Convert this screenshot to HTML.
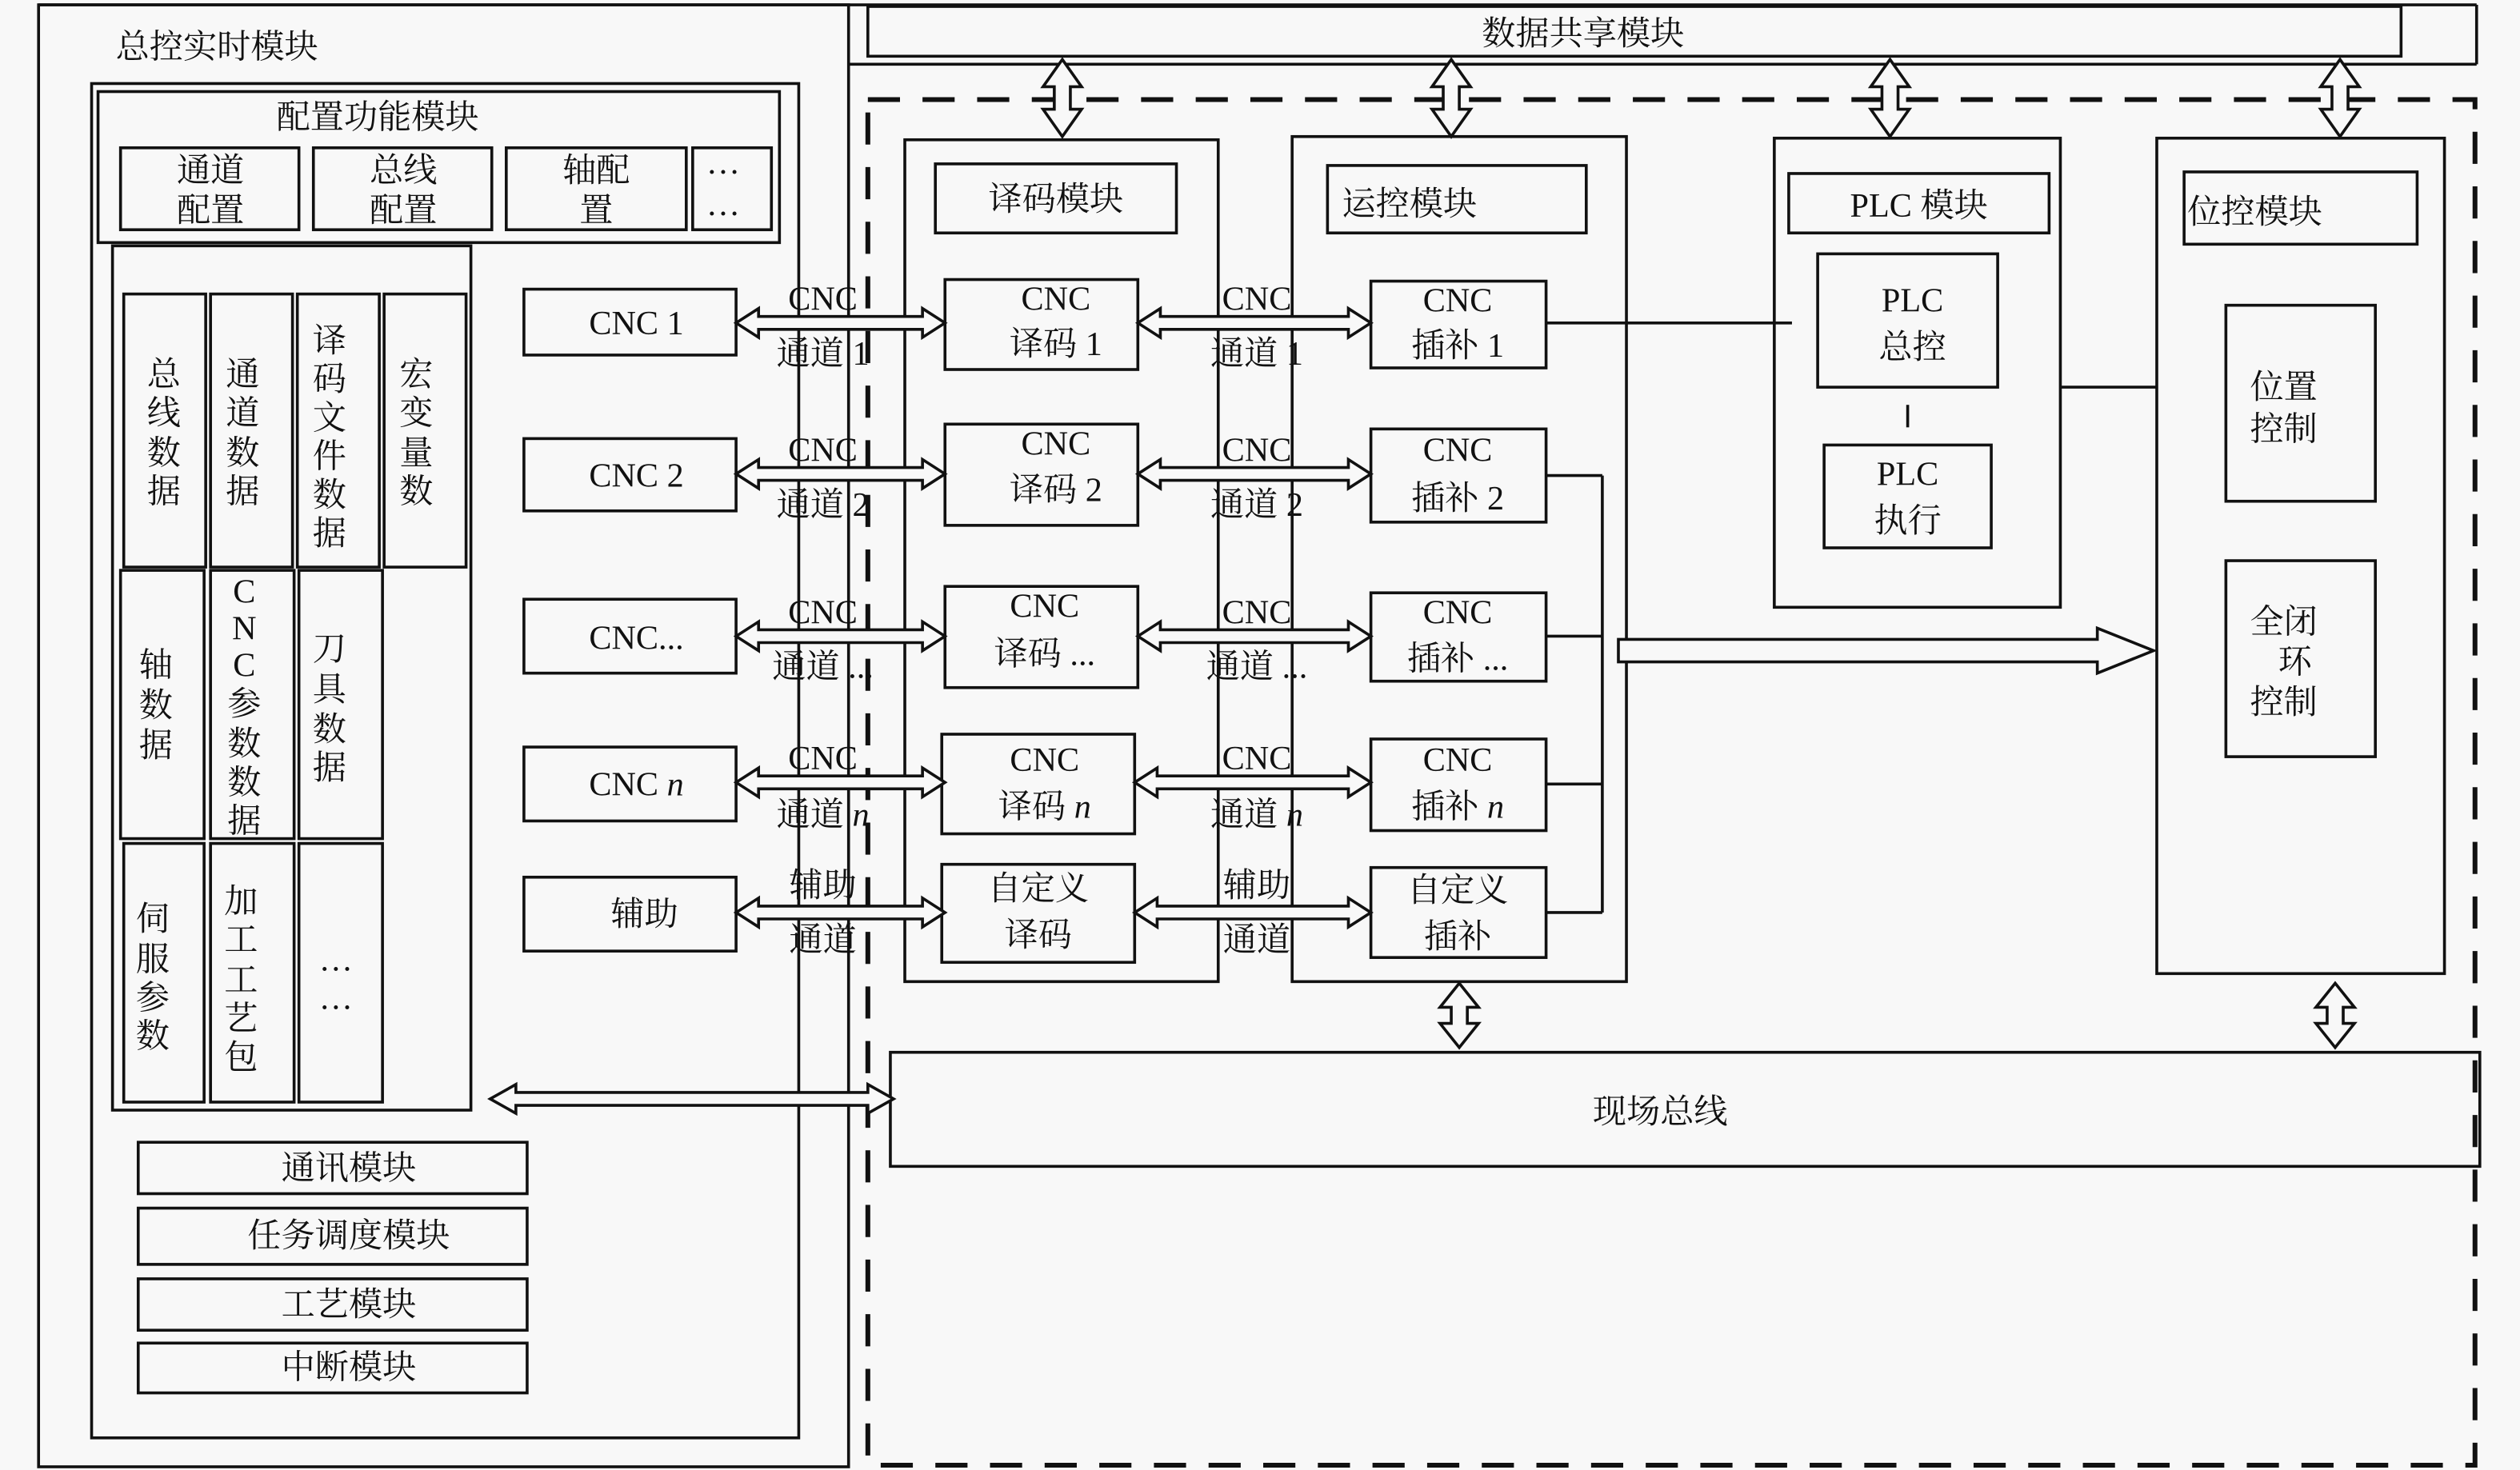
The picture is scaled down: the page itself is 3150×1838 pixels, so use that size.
<!DOCTYPE html>
<html><head><meta charset="utf-8"><style>
html,body{margin:0;padding:0;background:#f8f8f8;}
svg{display:block;}
text{font-family:"Liberation Serif","Noto Serif CJK SC","Noto Sans CJK SC",serif;fill:#111;font-size:21px;}
</style></head><body>
<svg width="3150" height="1838" viewBox="0 0 1568 915" preserveAspectRatio="none" xmlns="http://www.w3.org/2000/svg">
<rect x="0" y="0" width="1568" height="915" fill="#f8f8f8"/>
<g fill="none" stroke="#111" stroke-width="1.8">
<line x1="24" y1="3" x2="1541" y2="3"/>
<line x1="1541" y1="3" x2="1541" y2="40"/>
<line x1="528" y1="40" x2="1541" y2="40"/>
<rect x="24" y="3" width="504" height="910"/>
<rect x="540" y="4" width="954" height="31"/>
<rect x="540" y="62" width="1000" height="850" stroke-width="3" stroke-dasharray="20,14"/>
<rect x="57" y="52" width="440" height="843"/>
<rect x="61" y="57" width="424" height="94"/>
<rect x="75" y="92" width="111" height="51"/>
<rect x="195" y="92" width="111" height="51"/>
<rect x="315" y="92" width="112" height="51"/>
<rect x="431" y="92" width="49" height="51"/>
<rect x="70" y="153" width="223" height="538"/>
<rect x="77" y="183" width="51" height="170"/>
<rect x="131" y="183" width="51" height="170"/>
<rect x="185" y="183" width="51" height="170"/>
<rect x="239" y="183" width="51" height="170"/>
<rect x="75" y="355" width="52" height="167"/>
<rect x="131" y="355" width="52" height="167"/>
<rect x="186" y="355" width="52" height="167"/>
<rect x="77" y="525" width="50" height="161"/>
<rect x="131" y="525" width="52" height="161"/>
<rect x="186" y="525" width="52" height="161"/>
<rect x="86" y="711" width="242" height="32"/>
<rect x="86" y="752" width="242" height="35"/>
<rect x="86" y="796" width="242" height="32"/>
<rect x="86" y="836" width="242" height="31"/>
<rect x="326" y="180" width="132" height="41"/>
<rect x="326" y="273" width="132" height="45"/>
<rect x="326" y="373" width="132" height="46"/>
<rect x="326" y="465" width="132" height="46"/>
<rect x="326" y="546" width="132" height="46"/>
<rect x="563" y="87" width="195" height="524"/>
<rect x="582" y="102" width="150" height="43"/>
<rect x="588" y="174" width="120" height="56"/>
<rect x="588" y="264" width="120" height="63"/>
<rect x="588" y="365" width="120" height="63"/>
<rect x="586" y="457" width="120" height="62"/>
<rect x="586" y="538" width="120" height="61"/>
<rect x="804" y="85" width="208" height="526"/>
<rect x="826" y="103" width="161" height="42"/>
<rect x="853" y="175" width="109" height="54"/>
<rect x="853" y="267" width="109" height="58"/>
<rect x="853" y="369" width="109" height="55"/>
<rect x="853" y="460" width="109" height="57"/>
<rect x="853" y="540" width="109" height="56"/>
<line x1="997" y1="296" x2="997" y2="568"/>
<line x1="962" y1="296" x2="997" y2="296"/>
<line x1="962" y1="396" x2="997" y2="396"/>
<line x1="962" y1="488" x2="997" y2="488"/>
<line x1="962" y1="568" x2="997" y2="568"/>
<line x1="962" y1="201" x2="1115" y2="201"/>
<rect x="1104" y="86" width="178" height="292"/>
<rect x="1113" y="108" width="162" height="37"/>
<rect x="1131" y="158" width="112" height="83"/>
<rect x="1135" y="277" width="104" height="64"/>
<line x1="1187" y1="252" x2="1187" y2="266"/>
<line x1="1282" y1="241" x2="1342" y2="241"/>
<rect x="1342" y="86" width="179" height="520"/>
<rect x="1359" y="107" width="145" height="45"/>
<rect x="1385" y="190" width="93" height="122"/>
<rect x="1385" y="349" width="93" height="122"/>
<rect x="554" y="655" width="989" height="71"/>
</g>
<g fill="#f8f8f8" stroke="#111" stroke-width="1.8" stroke-linejoin="miter">
<polygon points="458,201 472,192 472,197 574,197 574,192 588,201 574,210 574,205 472,205 472,210"/>
<polygon points="458,295 472,286 472,291 574,291 574,286 588,295 574,304 574,299 472,299 472,304"/>
<polygon points="458,396 472,387 472,392 574,392 574,387 588,396 574,405 574,400 472,400 472,405"/>
<polygon points="458,487 472,478 472,483 574,483 574,478 588,487 574,496 574,491 472,491 472,496"/>
<polygon points="458,568 472,559 472,564 574,564 574,559 588,568 574,577 574,572 472,572 472,577"/>
<polygon points="708,201 722,192 722,197 839,197 839,192 853,201 839,210 839,205 722,205 722,210"/>
<polygon points="708,295 722,286 722,291 839,291 839,286 853,295 839,304 839,299 722,299 722,304"/>
<polygon points="708,396 722,387 722,392 839,392 839,387 853,396 839,405 839,400 722,400 722,405"/>
<polygon points="706,487 720,478 720,483 839,483 839,478 853,487 839,496 839,491 720,491 720,496"/>
<polygon points="706,568 720,559 720,564 839,564 839,559 853,568 839,577 839,572 720,572 720,577"/>
<polygon points="305,684 321,675 321,680 540,680 540,675 556,684 540,693 540,688 321,688 321,693"/>
<polygon points="1007,398 1305,398 1305,391 1340,405 1305,419 1305,412 1007,412"/>
<polygon points="661,37 673,54 666,54 666,68 673,68 661,85 649,68 656,68 656,54 649,54"/>
<polygon points="903,37 915,54 908,54 908,68 915,68 903,85 891,68 898,68 898,54 891,54"/>
<polygon points="1176,37 1188,54 1181,54 1181,68 1188,68 1176,85 1164,68 1171,68 1171,54 1164,54"/>
<polygon points="1456,37 1468,54 1461,54 1461,68 1468,68 1456,85 1444,68 1451,68 1451,54 1444,54"/>
<polygon points="908,612 920,627 913,627 913,637 920,637 908,652 896,637 903,637 903,627 896,627"/>
<polygon points="1453,612 1465,627 1458,627 1458,637 1465,637 1453,652 1441,637 1448,637 1448,627 1441,627"/>
</g>
<g>
<text x="72" y="36" font-size="22">总控实时模块</text>
<text x="922" y="28">数据共享模块</text>
<text x="235" y="80" text-anchor="middle">配置功能模块</text>
<g text-anchor="middle">
<text x="131" y="113">通道</text><text x="131" y="138">配置</text>
<text x="251" y="113">总线</text><text x="251" y="138">配置</text>
<text x="371" y="113">轴配</text><text x="371" y="138">置</text>
<text x="450" y="108" font-size="16">…</text><text x="450" y="134" font-size="16">…</text>
<text x="102" y="240">总</text><text x="102" y="264">线</text><text x="102" y="289">数</text><text x="102" y="313">据</text>
<text x="151" y="240">通</text><text x="151" y="264">道</text><text x="151" y="289">数</text><text x="151" y="313">据</text>
<text x="205" y="219">译</text><text x="205" y="243">码</text><text x="205" y="267">文</text><text x="205" y="291">件</text><text x="205" y="315">数</text><text x="205" y="339">据</text>
<text x="259" y="240">宏</text><text x="259" y="264">变</text><text x="259" y="289">量</text><text x="259" y="313">数</text>
<text x="97" y="421">轴</text><text x="97" y="446">数</text><text x="97" y="471">据</text>
<text x="152" y="375">C</text><text x="152" y="398">N</text><text x="152" y="421">C</text><text x="152" y="445">参</text><text x="152" y="470">数</text><text x="152" y="494">数</text><text x="152" y="518">据</text>
<text x="205" y="411">刀</text><text x="205" y="436">具</text><text x="205" y="461">数</text><text x="205" y="485">据</text>
<text x="95" y="579">伺</text><text x="95" y="604">服</text><text x="95" y="628">参</text><text x="95" y="652">数</text>
<text x="150" y="568">加</text><text x="150" y="592">工</text><text x="150" y="617">工</text><text x="150" y="641">艺</text><text x="150" y="665">包</text>
<text x="209" y="604" font-size="16">…</text><text x="209" y="628" font-size="16">…</text>
<text x="217" y="734">通讯模块</text>
<text x="217" y="776">任务调度模块</text>
<text x="217" y="819">工艺模块</text>
<text x="217" y="858">中断模块</text>
<text x="396" y="208">CNC 1</text>
<text x="396" y="303">CNC 2</text>
<text x="396" y="404">CNC...</text>
<text x="396" y="495">CNC <tspan font-style="italic">n</tspan></text>
<text x="401" y="576">辅助</text>
<text x="512" y="193">CNC</text><text x="512" y="227">通道 1</text>
<text x="512" y="287">CNC</text><text x="512" y="321">通道 2</text>
<text x="512" y="388">CNC</text><text x="512" y="422">通道 ...</text>
<text x="512" y="479">CNC</text><text x="512" y="514">通道 <tspan font-style="italic">n</tspan></text>
<text x="512" y="558">辅助</text><text x="512" y="592">通道</text>
<text x="782" y="193">CNC</text><text x="782" y="227">通道 1</text>
<text x="782" y="287">CNC</text><text x="782" y="321">通道 2</text>
<text x="782" y="388">CNC</text><text x="782" y="422">通道 ...</text>
<text x="782" y="479">CNC</text><text x="782" y="514">通道 <tspan font-style="italic">n</tspan></text>
<text x="782" y="558">辅助</text><text x="782" y="592">通道</text>
<text x="657" y="131">译码模块</text>
<text x="657" y="193">CNC</text><text x="657" y="221">译码 1</text>
<text x="657" y="283">CNC</text><text x="657" y="312">译码 2</text>
<text x="650" y="384">CNC</text><text x="650" y="414">译码 ...</text>
<text x="650" y="480">CNC</text><text x="650" y="509">译码 <tspan font-style="italic">n</tspan></text>
<text x="646" y="560">自定义</text><text x="646" y="589">译码</text>
<text x="907" y="194">CNC</text><text x="907" y="222">插补 1</text>
<text x="907" y="287">CNC</text><text x="907" y="317">插补 2</text>
<text x="907" y="388">CNC</text><text x="907" y="417">插补 ...</text>
<text x="907" y="480">CNC</text><text x="907" y="509">插补 <tspan font-style="italic">n</tspan></text>
<text x="907" y="561">自定义</text><text x="907" y="590">插补</text>
<text x="1194" y="135">PLC 模块</text>
<text x="1190" y="194">PLC</text><text x="1190" y="223">总控</text>
<text x="1187" y="302">PLC</text><text x="1187" y="331">执行</text>
<text x="1421" y="248">位置</text><text x="1421" y="274">控制</text>
<text x="1421" y="394">全闭</text><text x="1428" y="419">环</text><text x="1421" y="444">控制</text>
<text x="1033" y="699">现场总线</text>
</g>
<text x="835" y="134">运控模块</text>
<text x="1361" y="139">位控模块</text>
</g>
</svg>
</body></html>
